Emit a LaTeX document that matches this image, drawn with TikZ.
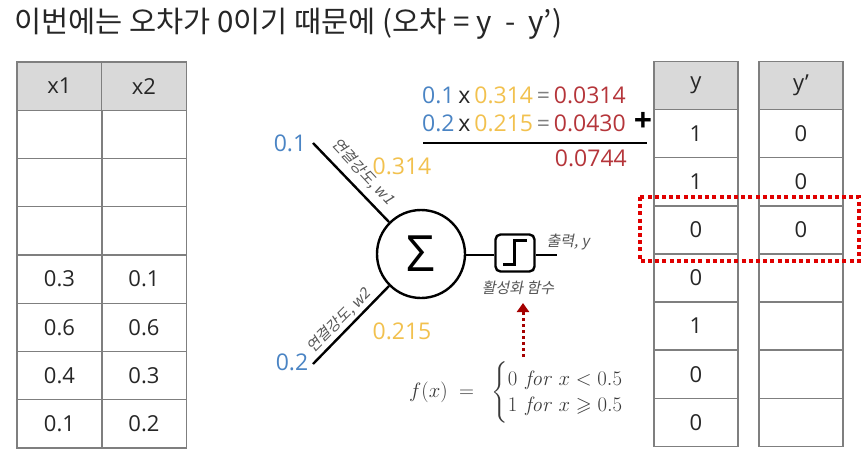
\documentclass[tikz,border=0pt]{standalone}
\usepackage[no-math]{fontspec}
\usepackage{amsmath,amssymb}
\setmainfont{Open Sans}
\newfontfamily\kr{Noto Sans CJK KR}
\newfontfamily\krit[FakeSlant=0.2]{Noto Sans CJK KR}
\usetikzlibrary{arrows.meta}
\definecolor{cblue}{HTML}{4A84C4}
\definecolor{cgold}{HTML}{F2C14E}
\definecolor{cred}{HTML}{B5353A}
\definecolor{cgrid}{HTML}{7F7F7F}
\definecolor{chead}{HTML}{D9D9D9}
\definecolor{ctext}{HTML}{262626}
\definecolor{clabel}{HTML}{555555}
\definecolor{cbox}{HTML}{E00000}
\definecolor{carrow}{HTML}{A50000}
\definecolor{cform}{HTML}{3A3A3A}
\begin{document}
\begin{tikzpicture}[x=1pt,y=-1pt,
  cell/.style={draw=cgrid, line width=1.2pt, minimum height=48.25pt, inner sep=0pt,
    text=ctext, font=\fontsize{22}{26}\selectfont},
  lcell/.style={cell, minimum width=85pt},
  rcell/.style={cell, minimum width=84pt},
  head/.style={fill=chead},
  wire/.style={line width=2.4pt, black},
  glabel/.style={text=clabel, font=\krit\fontsize{15}{18}\selectfont, inner sep=0pt},
  num/.style={font=\fontsize{23}{28}\selectfont, inner sep=0pt}
]
\useasboundingbox (0,0) rectangle (868,458);
\fill[white] (0,0) rectangle (868,458);

% title
\node[anchor=west, inner sep=0pt, font=\kr\fontsize{29.5}{34}\selectfont, text=ctext] (title) at (14,24)
  {이번에는 오차가 0이기 때문에 (오차 = y\ \ -\ \ y’)};

% left table
\node[lcell, head] (x1h) at (59.5,86.1) {x1};
\node[lcell, head] (x2h) at (144,86.1) {x2};
\foreach \i/\a/\b in {1//,2//,3//,4/0.3/0.1,5/0.6/0.6,6/0.4/0.3,7/0.1/0.2}{
  \node[lcell] (x1r\i) at (59.5,86.1+48.25*\i) {\a};
  \node[lcell] (x2r\i) at (144,86.1+48.25*\i) {\b};
}

% right tables
\node[rcell, head] (yh) at (696,85.6) {y};
\node[rcell, head] (yph) at (801,85.6) {y’};
\foreach \i/\a/\b in {1/1/0,2/1/0,3/0/0,4/0//,5/1//,6/0//,7/0//}{
  \node[rcell] (yr\i) at (696,85.6+48.1*\i) {\a};
  \node[rcell] (ypr\i) at (801,85.6+48.1*\i) {\b};
}

% red dotted highlight
\draw[cbox, line width=4pt, dash pattern=on 4pt off 3.2pt] (640,197) rectangle (859,261);

% neuron
\node[circle, draw, line width=2.4pt, minimum size=88pt, inner sep=0pt,
  font=\fontsize{50}{50}\selectfont] (sum) at (421,254) {Σ};
\coordinate (in1) at (313,143);
\coordinate (in2) at (313,364);
\draw[wire] (in1) -- (sum.135);
\draw[wire] (in2) -- (sum.225);

\node[num, text=cblue] (v1) at (290,143) {0.1};
\node[num, text=cblue] (v2) at (292,362) {0.2};
\node[num, text=cgold] (w1) at (402,166) {0.314};
\node[num, text=cgold] (w2) at (402,331) {0.215};

\node[glabel, rotate=-47] (l1) at (363,172) {연결강도, w1};
\node[glabel, rotate=45] (l2) at (339,321) {연결강도, w2};

% activation box
\node[draw, line width=2.4pt, rounded corners=5pt, minimum width=39pt, minimum height=37pt,
  inner sep=0pt] (act) at (515,253) {};
\draw[line width=3pt, line join=miter] (503,264) -- (514,264) -- (514,240) -- (527,240);
\coordinate (out) at (557,255);
\draw[wire] (sum.east |- 0,255) -- (act.west |- 0,255);
\draw[wire] (act.east |- 0,255) -- (out);
\node[glabel] (outl) at (568,242) {출력, y};
\node[glabel] (actl) at (518,288) {활성화 함수};

% dotted arrow
\coordinate (af) at (523,357);
\coordinate (at) at (523,303);
\draw[carrow, line width=3pt, dash pattern=on 3pt off 3pt,
  -{Triangle[width=12pt,length=9pt]}] (af) -- (at);

% formula
\node[anchor=west, text=cform, inner sep=0pt, font=\fontsize{20.5}{25}\selectfont] (fx) at (409,392)
  {$f(x)\;=\;\;\begin{cases}0\hspace{8pt}\mathit{for}\;x<0.5\\[-4pt]1\hspace{8pt}\mathit{for}\;x\geqslant 0.5\end{cases}$};

% computation
\node[num, anchor=west] (c1) at (422,95)
  {\textcolor{cblue}{0.1}\,\textcolor{ctext}{x}\,\textcolor{cgold}{0.314}\,\textcolor{gray}{=}\,\textcolor{cred}{0.0314}};
\node[num, anchor=west] (c2) at (422,123)
  {\textcolor{cblue}{0.2}\,\textcolor{ctext}{x}\,\textcolor{cgold}{0.215}\,\textcolor{gray}{=}\,\textcolor{cred}{0.0430}};
\node[font=\bfseries\fontsize{32}{32}\selectfont, inner sep=0pt] (plus) at (643,122) {+};
\coordinate (r1) at (423,143);
\coordinate (r2) at (647,143);
\draw[line width=2.4pt] (r1) -- (r2);
\node[num, anchor=east, text=cred] (tot) at (627,158) {0.0744};
\end{tikzpicture}
\end{document}
